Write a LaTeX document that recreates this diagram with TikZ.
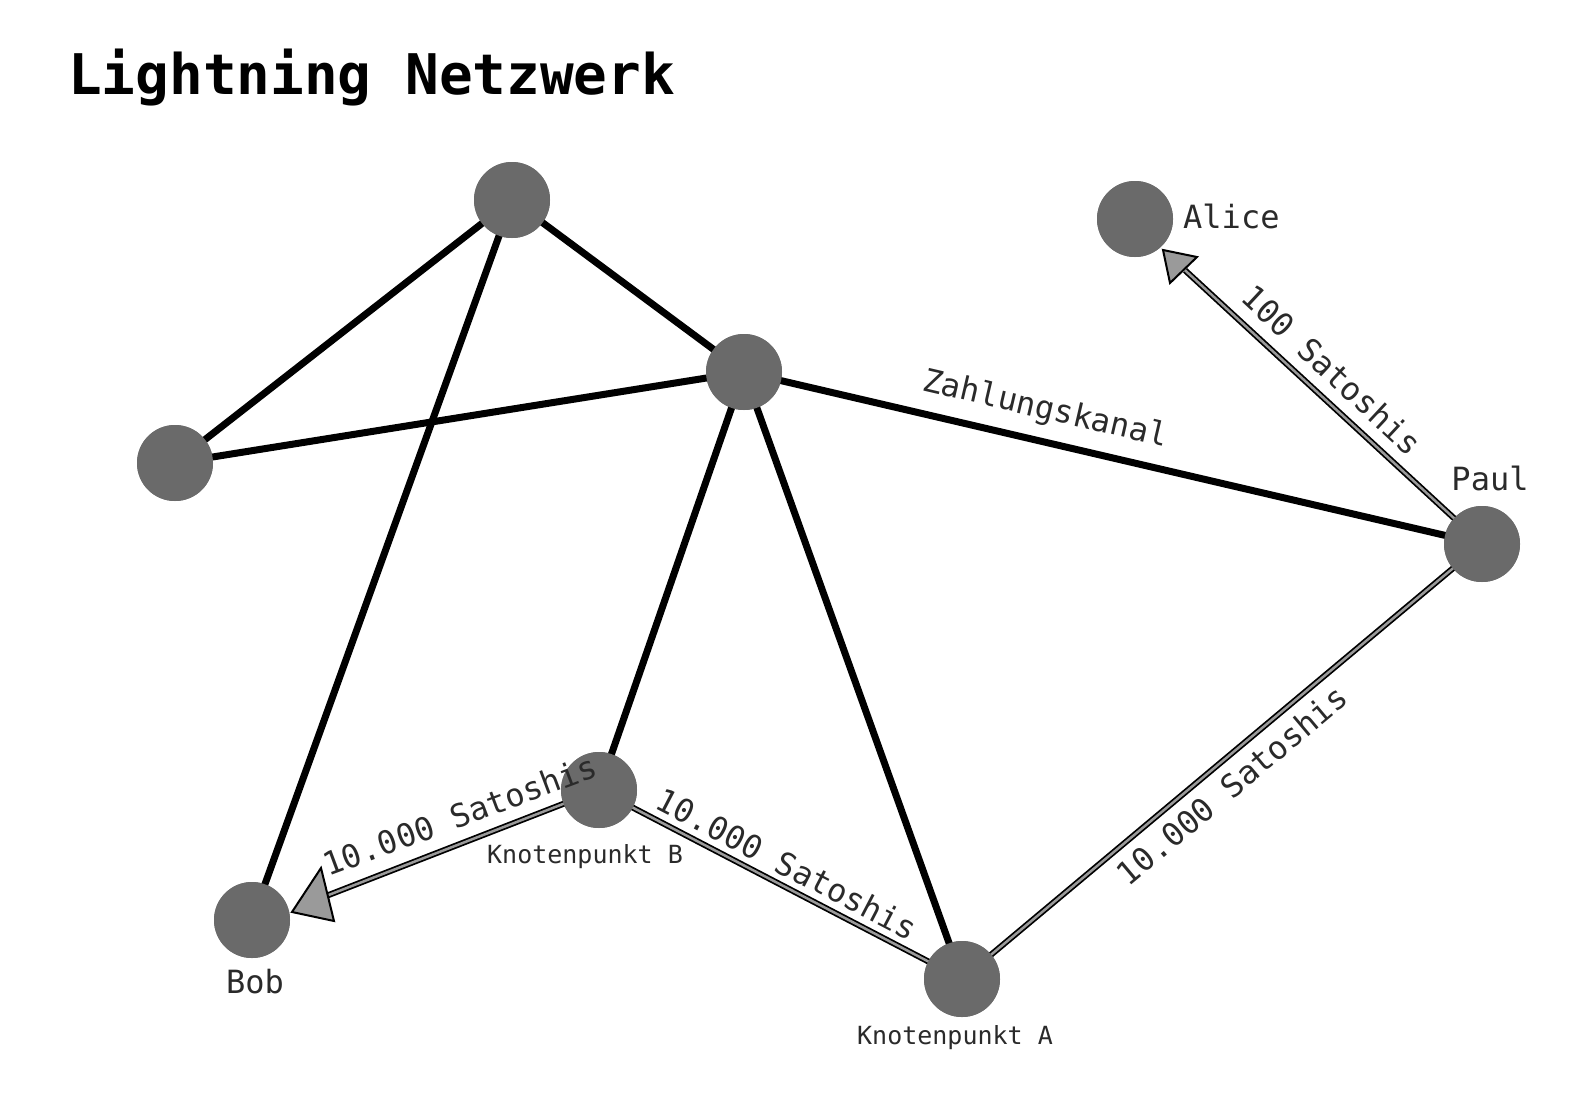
\documentclass[tikz,border=0pt]{standalone}
\usepackage{fontspec}
\setmonofont{DejaVu Sans Mono}
\definecolor{nd}{HTML}{6A6A6A}
\definecolor{chan}{HTML}{9A9A9A}
\definecolor{txt}{HTML}{2A2A2A}
\tikzset{
  pt/.style={circle,fill=nd,minimum size=76pt,inner sep=0pt},
  edge/.style={line width=7pt,black},
  pay/.style={line width=6pt,black},
  payin/.style={line width=2.5pt,chan},
  lbl/.style={font=\ttfamily\fontsize{32}{34}\selectfont,text=txt,inner sep=0pt},
  slbl/.style={font=\ttfamily\fontsize{25}{27}\selectfont,text=txt,inner sep=0pt}
}
\begin{document}
\begin{tikzpicture}[x=1pt,y=-1pt]
\useasboundingbox (0,0) rectangle (1593,1098);
\node[pt] (top) at (512,200) {};
\node[pt] (left) at (175,463) {};
\node[pt] (hub) at (744,372) {};
\node[pt] (alice) at (1135,219) {};
\node[pt] (paul) at (1482,544) {};
\node[pt] (b) at (599,790) {};
\node[pt] (bob) at (252,920) {};
\node[pt] (a) at (962,979) {};
\draw[edge] (top.center) -- (left.center);
\draw[edge] (top.center) -- (hub.center);
\draw[edge] (top.center) -- (bob.center);
\draw[edge] (left.center) -- (hub.center);
\draw[edge] (hub.center) -- (paul.center);
\draw[edge] (hub.center) -- (b.center);
\draw[edge] (hub.center) -- (a.center);
\draw[pay] (b.center) -- (a.center);
\draw[payin] (b.center) -- (a.center);
\draw[pay] (paul.center) -- (a.center);
\draw[payin] (paul.center) -- (a.center);
\coordinate (at) at (1163,250);
\coordinate (bt) at (290,910);
\draw[pay,shorten >=30pt] (paul.center) -- (at);
\draw[payin,shorten >=30pt] (paul.center) -- (at);
\draw[pay,shorten >=30pt] (b.center) -- (bt);
\draw[payin,shorten >=30pt] (b.center) -- (bt);
\foreach \n in {top,left,hub,alice,paul,b,bob,a} \fill[nd] (\n) circle (38pt);
\fill[chan,draw=black,line width=2pt] (1163,250) -- (1197,257) -- (1170,283) -- cycle;
\fill[chan,draw=black,line width=2pt] (292,912) -- (321,868) -- (334,921) -- cycle;
\node[font=\ttfamily\bfseries\fontsize{56}{58}\selectfont,anchor=west,inner sep=0pt] (title) at (68,78) {Lightning Netzwerk};
\node[lbl,anchor=west] (la) at (1183,216) {Alice};
\node[lbl] (lp) at (1490,478) {Paul};
\node[lbl] (lb) at (255,982) {Bob};
\node[slbl] (lkb) at (585,857) {Knotenpunkt B};
\node[slbl] (lka) at (955,1038) {Knotenpunkt A};
\node[lbl,rotate=-13.1] (lz) at (1045,410) {Zahlungskanal};
\node[lbl,rotate=-43] (l100) at (1332,370) {100 Satoshis};
\node[lbl,rotate=40] (lpa) at (1232,785) {10.000 Satoshis};
\node[lbl,rotate=-27.5] (lba) at (787,864) {10.000 Satoshis};
\node[lbl,rotate=20.5] (lbb) at (460,815) {10.000 Satoshis};
\end{tikzpicture}
\end{document}
